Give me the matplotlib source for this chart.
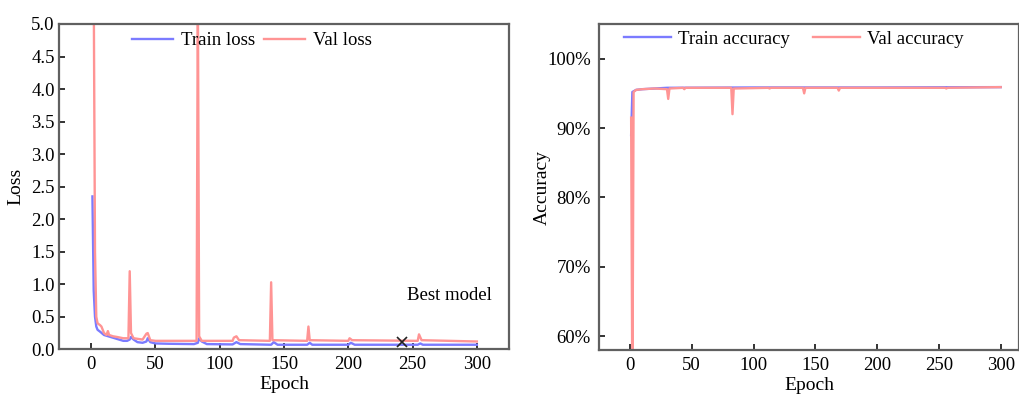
import matplotlib
matplotlib.use("Agg")
import matplotlib.pyplot as plt
from matplotlib.ticker import FuncFormatter

# ---------------- data ----------------
train_loss_epochs = [1, 2, 3, 4, 5, 7, 10, 15, 20, 25, 28, 30, 31, 33, 36, 40, 43, 44, 46, 50,
                     60, 80, 83, 84, 86, 90, 110, 113, 116, 140, 142, 145, 168, 170, 172,
                     200, 202, 205, 254, 256, 258, 300]
train_loss = [2.35, 0.9, 0.5, 0.35, 0.3, 0.27, 0.22, 0.19, 0.16, 0.13, 0.13, 0.15, 0.19, 0.15, 0.11,
              0.10, 0.12, 0.17, 0.11, 0.09, 0.085, 0.08, 0.10, 0.17, 0.12, 0.08, 0.075, 0.11, 0.08,
              0.07, 0.11, 0.07, 0.07, 0.10, 0.07, 0.07, 0.10, 0.07, 0.07, 0.09, 0.07, 0.07]

val_loss_epochs = [1, 2, 3, 4, 5, 7, 8, 10, 12, 13, 14, 17, 20, 25, 29, 30, 31, 33, 40, 43, 44,
                   46, 50, 82, 83, 84, 86, 110, 111, 113, 115, 139, 140, 141, 168, 169, 170,
                   200, 201, 203, 254, 255, 257, 300]
val_loss = [9.0, 5.6, 1.5, 0.5, 0.4, 0.37, 0.35, 0.25, 0.22, 0.28, 0.22, 0.20, 0.19, 0.17, 0.17,
            1.2, 0.25, 0.17, 0.15, 0.24, 0.25, 0.14, 0.13, 0.13, 5.6, 0.2, 0.13, 0.13, 0.18, 0.2,
            0.14, 0.13, 1.03, 0.14, 0.13, 0.35, 0.14, 0.13, 0.17, 0.14, 0.13, 0.23, 0.14, 0.12]

train_acc_epochs = [1, 2, 5, 10, 20, 30, 100, 200, 300]
train_acc = [89.0, 95.2, 95.5, 95.6, 95.7, 95.8, 95.85, 95.85, 95.9]

val_acc_epochs = [1, 2, 3, 5, 10, 20, 30, 31, 32, 43, 44, 45, 82, 83, 84, 112, 113, 114,
                  140, 141, 142, 168, 169, 170, 255, 256, 257, 300]
val_acc = [91.5, 50.0, 95.2, 95.5, 95.6, 95.7, 95.6, 94.2, 95.7, 95.8, 95.6, 95.8, 95.8, 92.0,
           95.7, 95.8, 95.7, 95.8, 95.8, 95.0, 95.8, 95.8, 95.4, 95.8, 95.8, 95.7, 95.8, 95.9]

best_epoch = 242
best_loss = 0.115

loss_ticks = [0.0, 0.5, 1.0, 1.5, 2.0, 2.5, 3.0, 3.5, 4.0, 4.5, 5.0]
acc_ticks = [60, 70, 80, 90, 100]
epoch_ticks = [0, 50, 100, 150, 200, 250, 300]

# ---------------- style ----------------
plt.rcParams['font.family'] = ['Liberation Serif', 'DejaVu Serif']
FS = 13.5
BLUE = '#7b7bff'
RED = '#ff9494'
SPINE = '#606060'

W, H = 1019, 395
fig = plt.figure(figsize=(W / 100, H / 100), dpi=100)

def frac_axes(x0, x1, ytop, ybot):
    return fig.add_axes([x0 / W, (H - ybot) / H, (x1 - x0) / W, (ybot - ytop) / H])

def style(ax):
    for s in ax.spines.values():
        s.set_color(SPINE)
        s.set_linewidth(1.6)
    ax.tick_params(direction='in', length=4, width=1.4, color='#333333',
                   labelsize=FS, top=False, right=False)
    ax.tick_params(axis='x', pad=5)

# ----- left: loss -----
ax1 = frac_axes(59, 509, 24, 349.3)
style(ax1)
ax1.plot(train_loss_epochs, train_loss, color=BLUE, lw=1.7, label='Train loss')
ax1.plot(val_loss_epochs, val_loss, color=RED, lw=1.7, label='Val loss')
ax1.plot([best_epoch], [best_loss], marker='x', color='#222222', ms=7, mew=1.2, ls='none')
ax1.text(246, 0.82, 'Best model', fontsize=FS, ha='left', va='center')
ax1.set_xlim(-25, 325)
ax1.set_ylim(0, 5)
ax1.set_xticks(epoch_ticks)
ax1.set_yticks(loss_ticks)
ax1.yaxis.set_major_formatter(FuncFormatter(lambda v, p: f'{v:.1f}'))
ax1.tick_params(axis='y', pad=3)
ax1.set_xlabel('Epoch', fontsize=FS + 0.5, labelpad=2)
ax1.set_ylabel('Loss', fontsize=FS + 0.5)
ax1.yaxis.set_label_coords(-0.078, 0.5)
ax1.legend(loc='center left', bbox_to_anchor=(0.162, 0.948), ncol=2, frameon=False,
           fontsize=FS, borderpad=0, borderaxespad=0, handlelength=2.2,
           handletextpad=0.4, columnspacing=0.5)

# ----- right: accuracy -----
ax2 = frac_axes(599, 1019, 24, 350)
style(ax2)
ax2.plot(train_acc_epochs, train_acc, color=BLUE, lw=1.7, label='Train accuracy')
ax2.plot(val_acc_epochs, val_acc, color=RED, lw=1.7, label='Val accuracy')
ax2.set_xlim(-25, 314.8)
ax2.set_ylim(58, 105)
ax2.set_xticks(epoch_ticks)
ax2.set_yticks(acc_ticks)
ax2.yaxis.set_major_formatter(FuncFormatter(lambda v, p: f'{v:.0f}%'))
ax2.tick_params(axis='y', pad=6)
ax2.set_xlabel('Epoch', fontsize=FS + 0.5, labelpad=2)
ax2.set_ylabel('Accuracy', fontsize=FS + 0.5)
ax2.yaxis.set_label_coords(-0.115, 0.5)
ax2.legend(loc='center left', bbox_to_anchor=(0.0595, 0.954), ncol=2, frameon=False,
           fontsize=FS, borderpad=0, borderaxespad=0, handlelength=2.5,
           handletextpad=0.4, columnspacing=1.2)

fig.savefig('out.png', dpi=100)
